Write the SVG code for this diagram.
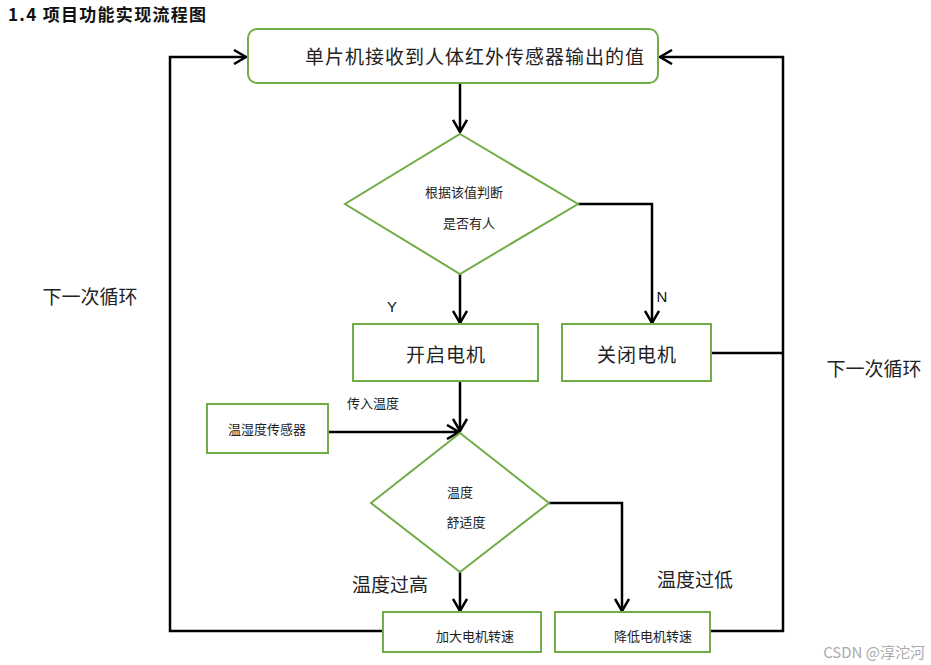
<svg xmlns="http://www.w3.org/2000/svg" width="931" height="665" viewBox="0 0 931 665">
<defs>
<marker id="arr" markerUnits="userSpaceOnUse" markerWidth="16" markerHeight="16" viewBox="0 0 16 16" refX="14" refY="8" orient="auto">
<path d="M2,1 L14,8 L2,15" fill="none" stroke="#000" stroke-width="2.5"/>
</marker>
<style>
.node{fill:#fff;stroke:#70AD47;stroke-width:2}
.con{fill:none;stroke:#000;stroke-width:2.5}
.t{font-family:"Noto Sans CJK SC","Liberation Sans",sans-serif;fill:#222;text-anchor:middle;dominant-baseline:central}
.s14{font-size:13px}
.s18{font-size:19px}
</style>
</defs>
<rect width="931" height="665" fill="#fff"/>
<text x="8" y="13" style="font-family:'Noto Sans CJK SC','Liberation Sans',sans-serif;font-size:17px;font-weight:bold;letter-spacing:1.3px;fill:#111;dominant-baseline:central">1.4 项目功能实现流程图</text>

<g id="connectors">
<path class="con" d="M460,83 V132" marker-end="url(#arr)"/>
<path class="con" d="M460,274 V323" marker-end="url(#arr)"/>
<path class="con" d="M578,204 H652 V323" marker-end="url(#arr)"/>
<path class="con" d="M460,381 V431" marker-end="url(#arr)"/>
<path class="con" d="M328,432 H459" marker-end="url(#arr)"/>
<path class="con" d="M460,572 V611" marker-end="url(#arr)"/>
<path class="con" d="M549,503 H622 V611" marker-end="url(#arr)"/>
<path class="con" d="M711,353 H783"/>
<path class="con" d="M710,631 H783 V57 H660" marker-end="url(#arr)"/>
<path class="con" d="M383,631 H170 V57 H246" marker-end="url(#arr)"/>
</g>

<g id="start">
<rect class="node" x="248" y="29" width="410" height="54" rx="9"/>
<text class="t" x="475" y="55" style="font-size:19px;letter-spacing:1px">单片机接收到人体红外传感器输出的值</text>
</g>

<g id="decision1">
<polygon class="node" points="460,134 578,204 460,274 345,204"/>
<text class="t s14" x="464" y="191">根据该值判断</text>
<text class="t s14" x="469" y="222">是否有人</text>
</g>

<g id="motorOn">
<rect class="node" x="353" y="324" width="185" height="57"/>
<text class="t" x="446" y="353" style="font-size:19px;letter-spacing:1px">开启电机</text>
</g>

<g id="motorOff">
<rect class="node" x="562" y="324" width="149" height="57"/>
<text class="t" x="637" y="353" style="font-size:19px;letter-spacing:1px">关闭电机</text>
</g>

<g id="sensor">
<rect class="node" x="207" y="404" width="121" height="49"/>
<text class="t s14" x="267" y="428">温湿度传感器</text>
</g>

<g id="decision2">
<polygon class="node" points="460,433 549,503 460,572 371,503"/>
<text class="t s14" x="460" y="491">温度</text>
<text class="t s14" x="466" y="521">舒适度</text>
</g>

<g id="speedUp">
<rect class="node" x="383" y="612" width="158" height="40"/>
<text class="t s14" x="475" y="635">加大电机转速</text>
</g>

<g id="speedDown">
<rect class="node" x="555" y="612" width="155" height="40"/>
<text class="t s14" x="653" y="635">降低电机转速</text>
</g>

<g id="labels">
<text x="392" y="306" style="font-family:'Liberation Sans',sans-serif;font-size:15px;fill:#111;text-anchor:middle;dominant-baseline:central">Y</text>
<text x="662" y="296" style="font-family:'Liberation Sans',sans-serif;font-size:15px;fill:#111;text-anchor:middle;dominant-baseline:central">N</text>
<text class="t s14" x="373" y="402">传入温度</text>
<text class="t s18" x="390" y="583">温度过高</text>
<text class="t s18" x="695" y="578">温度过低</text>
<text class="t s18" x="90" y="295">下一次循环</text>
<text class="t s18" x="874" y="367">下一次循环</text>
</g>
<text x="925" y="651" style="font-family:'Noto Sans CJK SC','Liberation Sans',sans-serif;font-size:15px;fill:#aaa;text-anchor:end;dominant-baseline:central">CSDN @淳沱河</text>
</svg>
